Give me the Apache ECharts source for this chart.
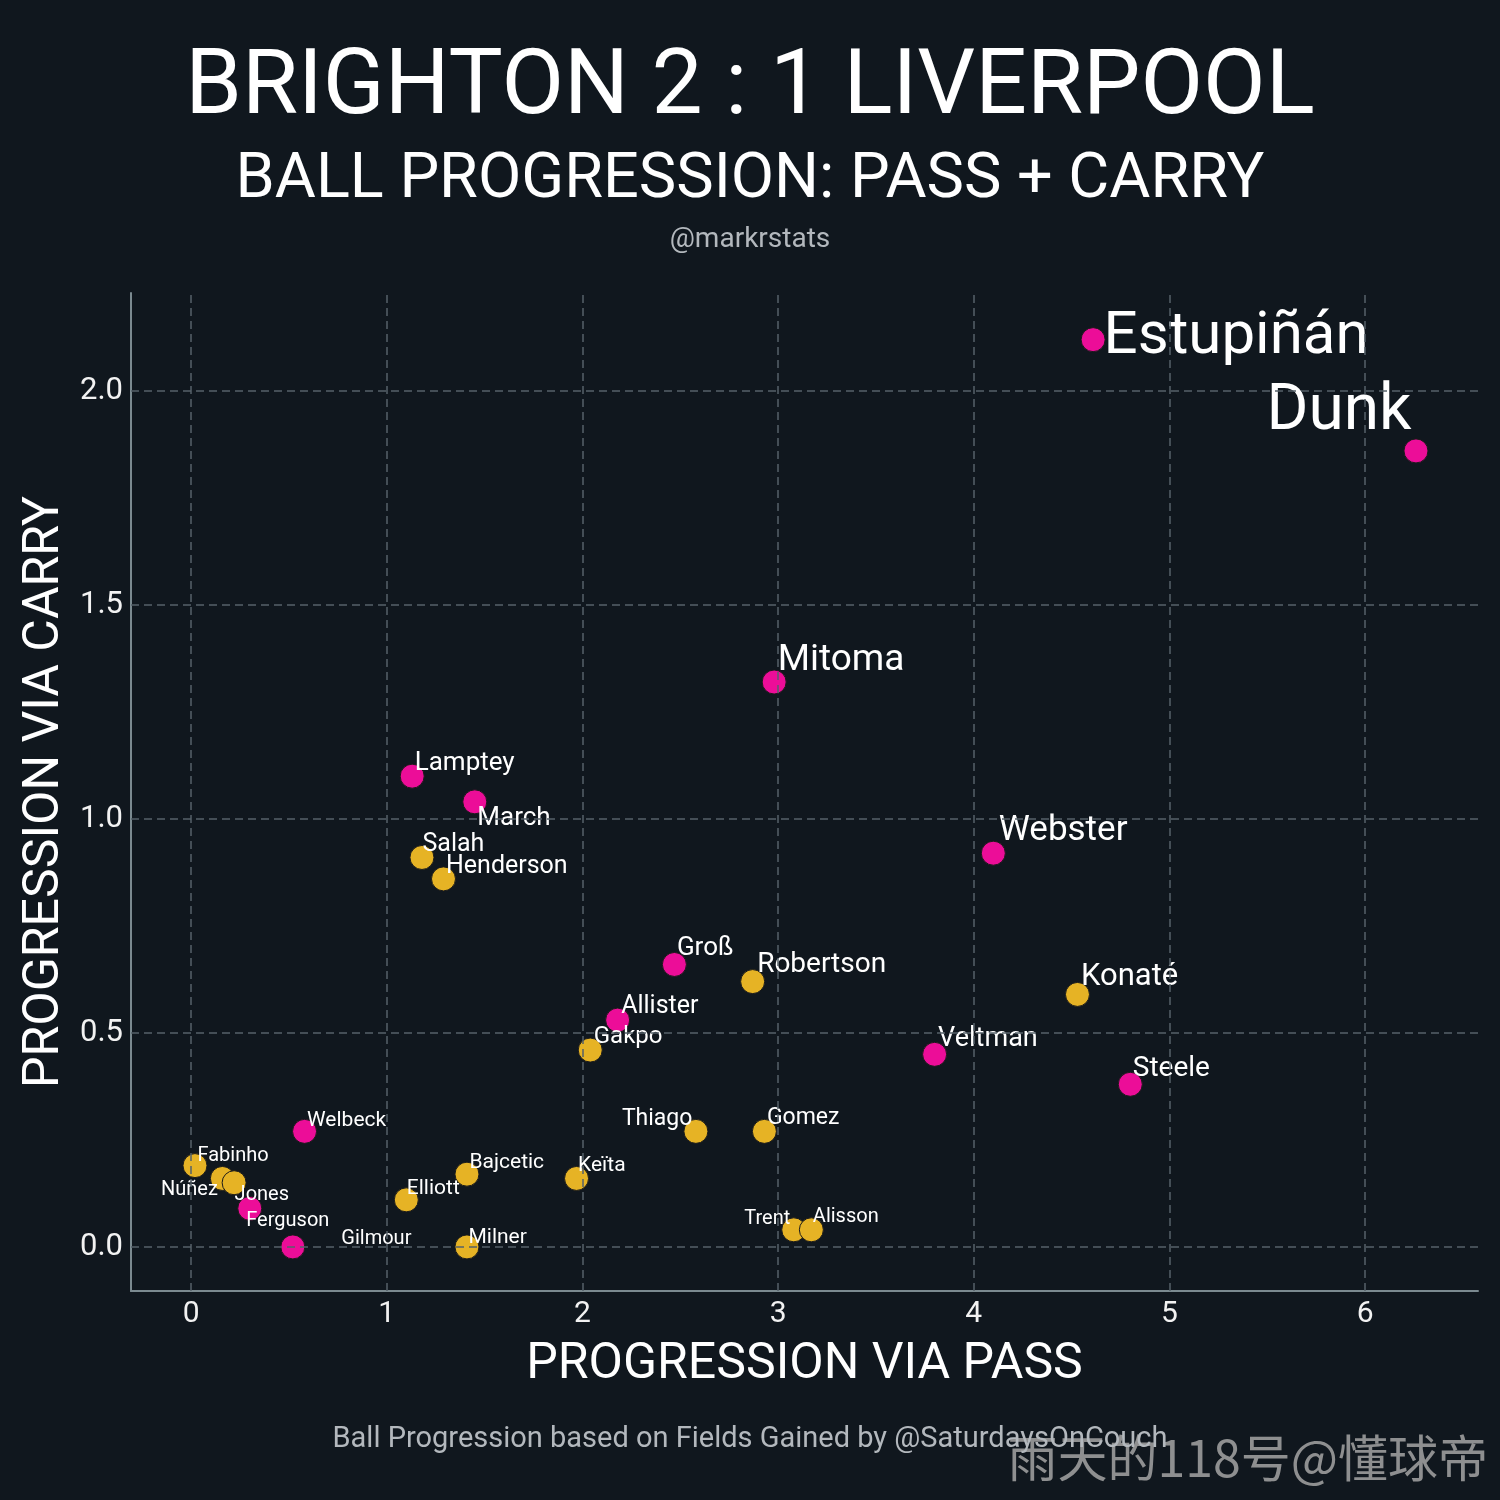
<!DOCTYPE html>
<html lang="en">

<head>
    <meta charset="UTF-8">
    <title>Brighton 2 : 1 Liverpool - Ball progression</title>
    <script src="https://cdn.jsdelivr.net/npm/echarts@6.0.0/dist/echarts.min.js"></script>
    <style>
        body {
            margin: 0;
            padding: 0;
            background-color: #10171e;
        }

        #main {
            width: 1500px;
            height: 1500px;
        }
    </style>
</head>

<body>
    <div id="main"></div>

    <script>
        // players, progression via pass (x) and via carry (y), team
        var players = ['Estupiñán', 'Dunk', 'Mitoma', 'Lamptey', 'March', 'Salah', 'Henderson', 'Webster',
            'Groß', 'Robertson', 'Konaté', 'Allister', 'Gakpo', 'Veltman', 'Steele', 'Thiago', 'Gomez',
            'Welbeck', 'Fabinho', 'Núñez', 'Jones', 'Ferguson', 'Gilmour', 'Elliott', 'Bajcetic', 'Milner',
            'Keïta', 'Trent', 'Alisson'];
        var viaPass = [4.61, 6.26, 2.98, 1.13, 1.45, 1.18, 1.29, 4.10,
            2.47, 2.87, 4.53, 2.18, 2.04, 3.80, 4.80, 2.58, 2.93,
            0.58, 0.02, 0.16, 0.22, 0.30, 0.52, 1.10, 1.41, 1.41,
            1.97, 3.08, 3.17];
        var viaCarry = [2.12, 1.86, 1.32, 1.10, 1.04, 0.91, 0.86, 0.92,
            0.66, 0.62, 0.59, 0.53, 0.46, 0.45, 0.38, 0.27, 0.27,
            0.27, 0.19, 0.16, 0.15, 0.09, 0.00, 0.11, 0.17, 0.00,
            0.16, 0.04, 0.04];
        var team = ['BHA', 'BHA', 'BHA', 'BHA', 'BHA', 'LIV', 'LIV', 'BHA',
            'BHA', 'LIV', 'LIV', 'BHA', 'LIV', 'BHA', 'BHA', 'LIV', 'LIV',
            'BHA', 'LIV', 'LIV', 'LIV', 'BHA', 'BHA', 'LIV', 'LIV', 'LIV',
            'LIV', 'LIV', 'LIV'];

        var xTicks = [0, 1, 2, 3, 4, 5, 6];
        var yTicks = [0, 0.5, 1, 1.5, 2];

        // label placement (pixel offset from the dot, font size, alignment)
        var labelStyle = {
            'Estupiñán': [11, -1, 60, 'left'],
            'Dunk': [-4, -37, 64, 'right'],
            'Mitoma': [4, -21, 37, 'left'],
            'Lamptey': [3, -12, 26, 'left'],
            'March': [3, 17, 26, 'left'],
            'Salah': [1, -12, 25, 'left'],
            'Henderson': [3, -12, 25, 'left'],
            'Webster': [6, -21, 35, 'left'],
            'Groß': [3, -15, 26, 'left'],
            'Robertson': [5, -16, 28, 'left'],
            'Konaté': [4, -17, 31, 'left'],
            'Allister': [4, -13, 25, 'left'],
            'Gakpo': [4, -13, 24, 'left'],
            'Veltman': [4, -15, 27, 'left'],
            'Steele': [3, -15, 28, 'left'],
            'Thiago': [-3, -12, 23, 'right'],
            'Gomez': [3, -13, 23, 'left'],
            'Welbeck': [3, -10, 21, 'left'],
            'Fabinho': [3, -9, 20, 'left'],
            'Núñez': [-4, 12, 20, 'right'],
            'Jones': [1, 13, 20, 'left'],
            'Ferguson': [-3, 13, 20, 'left'],
            'Gilmour': [49, -7, 20, 'left'],
            'Elliott': [1, -11, 21, 'left'],
            'Bajcetic': [3, -11, 21, 'left'],
            'Milner': [2, -9, 21, 'left'],
            'Keïta': [2, -12, 21, 'left'],
            'Trent': [-3, -10, 20, 'right'],
            'Alisson': [2, -12, 20, 'left']
        };

        var teamColor = { BHA: '#ec0d98', LIV: '#e6b325' };
        var dotSize = 24;

        function teamData(t) {
            var out = [];
            for (var i = 0; i < players.length; i++) {
                if (team[i] !== t) continue;
                var s = labelStyle[players[i]];
                out.push({
                    name: players[i],
                    value: [viaPass[i], viaCarry[i]],
                    label: {
                        position: [dotSize / 2 + s[0], dotSize / 2 + s[1]],
                        fontSize: s[2],
                        align: s[3],
                        verticalAlign: 'middle'
                    }
                });
            }
            return out;
        }

        var myChart = echarts.init(document.getElementById('main'));
        var font = 'Roboto';
        var gridColor = '#56616a';

        var option = {
            backgroundColor: '#10171e',
            animation: false,
            title: [
                {
                    text: 'BRIGHTON 2 : 1 LIVERPOOL',
                    left: 'center',
                    top: 40,
                    textStyle: { color: '#ffffff', fontSize: 91, fontWeight: 'normal', fontFamily: font }
                },
                {
                    text: 'BALL PROGRESSION: PASS + CARRY',
                    left: 'center',
                    top: 145,
                    textStyle: { color: '#ffffff', fontSize: 63, fontWeight: 'normal', fontFamily: font }
                },
                {
                    text: '@markrstats',
                    left: 'center',
                    top: 221,
                    textStyle: { color: '#b3b8bd', fontSize: 28, fontWeight: 'normal', fontFamily: font }
                },
                {
                    text: 'Ball Progression based on Fields Gained by @SaturdaysOnCouch',
                    left: 'center',
                    top: 1420,
                    textStyle: { color: '#b3b8bd', fontSize: 29, fontWeight: 'normal', fontFamily: font }
                }
            ],
            graphic: [
                {
                    type: 'text',
                    right: 12,
                    top: 1433,
                    style: {
                        text: '雨天的118号@懂球帝',
                        fill: 'rgba(165,165,165,0.85)',
                        font: '50px "Noto Sans CJK SC"'
                    }
                }
            ],
            grid: {
                left: 131,
                right: 22,
                top: 293,
                bottom: 209
            },
            xAxis: {
                type: 'value',
                min: -0.307,
                max: 6.577,
                name: 'PROGRESSION VIA PASS',
                nameLocation: 'middle',
                nameGap: 49,
                nameTextStyle: { color: '#ffffff', fontSize: 50, fontFamily: font },
                axisLine: { show: true, onZero: false, lineStyle: { color: '#7b8a90', width: 2 } },
                axisTick: { show: false },
                axisLabel: { show: false },
                splitLine: { show: false }
            },
            yAxis: {
                type: 'value',
                min: -0.103,
                max: 2.229,
                name: 'PROGRESSION VIA CARRY',
                nameLocation: 'middle',
                nameGap: 61,
                nameTextStyle: { color: '#ffffff', fontSize: 50, fontFamily: font },
                axisLine: { show: true, onZero: false, lineStyle: { color: '#7b8a90', width: 2 } },
                axisTick: { show: false },
                axisLabel: { show: false },
                splitLine: { show: false }
            },
            series: [
                {
                    // dashed grid with its tick labels
                    type: 'scatter',
                    data: [],
                    silent: true,
                    z: 1,
                    markLine: {
                        silent: true,
                        symbol: 'none',
                        animation: false,
                        lineStyle: { color: gridColor, type: [8, 5], width: 1.5 },
                        data: yTicks.map(function (v) {
                            return {
                                yAxis: v,
                                label: {
                                    show: true,
                                    position: 'start',
                                    distance: 8,
                                    formatter: v.toFixed(1),
                                    color: '#f2f2f2',
                                    fontSize: 31,
                                    fontFamily: font
                                }
                            };
                        }).concat(xTicks.map(function (v) {
                            return {
                                xAxis: v,
                                label: {
                                    show: true,
                                    position: 'start',
                                    distance: 8,
                                    formatter: String(v),
                                    color: '#f2f2f2',
                                    fontSize: 30,
                                    fontFamily: font
                                }
                            };
                        }))
                    }
                },
                {
                    name: 'Liverpool',
                    type: 'scatter',
                    z: 3,
                    symbolSize: dotSize,
                    data: teamData('LIV'),
                    itemStyle: { color: teamColor.LIV, borderColor: '#1b1b1b', borderWidth: 1, opacity: 1 },
                    label: {
                        show: true,
                        formatter: '{b}',
                        color: '#ffffff',
                        fontFamily: font
                    },
                    labelLayout: { hideOverlap: false }
                },
                {
                    name: 'Brighton',
                    type: 'scatter',
                    z: 3,
                    symbolSize: dotSize,
                    data: teamData('BHA'),
                    itemStyle: { color: teamColor.BHA, borderColor: '#1b1b1b', borderWidth: 1, opacity: 1 },
                    label: {
                        show: true,
                        formatter: '{b}',
                        color: '#ffffff',
                        fontFamily: font
                    },
                    labelLayout: { hideOverlap: false }
                }
            ]
        };

        option && myChart.setOption(option);
    </script>
</body>

</html>
